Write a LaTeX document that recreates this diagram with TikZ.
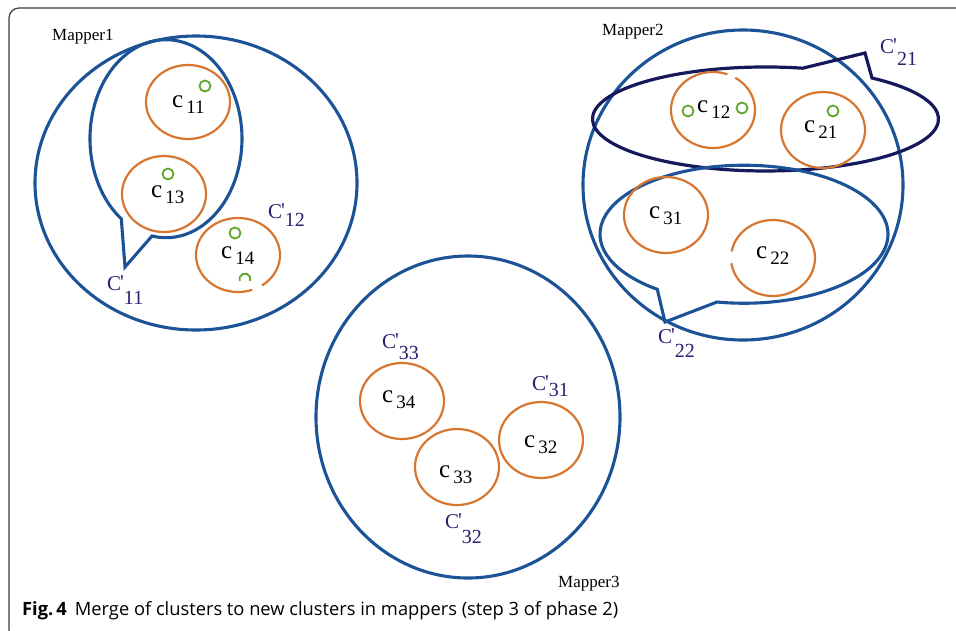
\documentclass[tikz,border=0pt]{standalone}
\usepackage{fontspec}
\setmainfont{Liberation Serif}
\newfontfamily\capfont{Open Sans}
\definecolor{mblue}{RGB}{28,82,150}
\definecolor{mnavy}{RGB}{22,24,92}
\definecolor{corange}{RGB}{214,118,48}
\definecolor{cgreen}{RGB}{96,166,40}
\definecolor{labcol}{RGB}{40,32,112}
\definecolor{framecol}{RGB}{60,60,60}
\newcommand\csub[2]{\fontsize{25}{25}\selectfont #1\hspace{3pt}\raisebox{-6pt}{\fontsize{19}{19}\selectfont #2}}
\newcommand\cprime[2]{\fontsize{21}{21}\selectfont C\kern-1pt\raisebox{1pt}{\textquotesingle}\raisebox{-#2pt}{\fontsize{20}{20}\selectfont #1}}
\begin{document}
\begin{tikzpicture}[x=1pt,y=-1pt,
  big/.style={draw=mblue,line width=3.1},
  navy/.style={draw=mnavy,line width=3.2},
  orangec/.style={draw=corange,line width=2.2},
  greenc/.style={draw=cgreen,line width=1.8},
  clab/.style={anchor=base west,inner sep=0pt,text=black},
  plab/.style={anchor=base west,inner sep=0pt,text=labcol},
  mlab/.style={anchor=base west,inner sep=0pt,text=black,font=\fontsize{17}{17}\selectfont}]
\useasboundingbox (0,0) rectangle (956,630);
\clip (0,0) rectangle (956,630);
% frame
\draw[framecol,line width=1.2,rounded corners=10] (30,640) -- (9,640) -- (9,8) -- (970,8);

% ---------- Mapper1 ----------
\draw[big] (196,183) ellipse[x radius=161,y radius=147];
\draw[big,line join=miter] (152,236) arc[start angle=100.6,end angle=-234,x radius=76,y radius=99] -- (125,267) -- cycle;
\draw[orangec] (188,102) ellipse[x radius=42,y radius=37];
\draw[orangec] (164,194) ellipse[x radius=42,y radius=38];
\draw[orangec] (238,255) ++(70:42 and 37) arc[start angle=70,end angle=415,x radius=42,y radius=37];
\draw[greenc] (205,86) circle[radius=5.5];
\draw[greenc] (168,174) circle[radius=5.5];
\draw[greenc] (235,233) circle[radius=5.5];
\draw[greenc] (245,279) ++(20:5.5) arc[start angle=20,end angle=-200,radius=5.5];
\node[clab] (c11) at (172,107) {\csub{c}{11}};
\node[clab] (c13) at (151,197) {\csub{c}{13}};
\node[clab] (c14) at (221,258) {\csub{c}{14}};
\node[plab] (p11) at (107,290) {\cprime{11}{14}};
\node[plab] (p12) at (268,218) {\cprime{12}{8}};
\node[mlab] (m1) at (52,40) {Mapper1};

% ---------- Mapper2 ----------
\draw[big] (743,185) ellipse[x radius=160,y radius=155];
\draw[navy,line join=miter] (872,78) arc[start angle=-52,end angle=282.4,x radius=173,y radius=52] -- (865,53) -- cycle;
\draw[big,line join=miter] (717,302) arc[start angle=100.8,end angle=-233,x radius=144,y radius=69] -- (665,322) -- cycle;
\draw[orangec] (713,110) ++(-58:42 and 38) arc[start angle=-58,end angle=290,x radius=42,y radius=38];
\draw[orangec] (823,130) ellipse[x radius=42,y radius=38];
\draw[orangec] (666,215) ellipse[x radius=42,y radius=38];
\draw[orangec] (773,258) ++(190:42 and 38) arc[start angle=190,end angle=532,x radius=42,y radius=38];
\draw[greenc] (688,111) circle[radius=5.5];
\draw[greenc] (742,108) circle[radius=5.5];
\draw[greenc] (833,111) circle[radius=5.5];
\node[clab] (c12) at (697,112) {\csub{c}{12}};
\node[clab] (c21) at (804,132) {\csub{c}{21}};
\node[clab] (c31) at (649,218) {\csub{c}{31}};
\node[clab] (c22) at (756,258) {\csub{c}{22}};
\node[plab] (p21) at (880,53) {\cprime{21}{12}};
\node[plab] (p22) at (658,343) {\cprime{22}{14}};
\node[mlab] (m2) at (602,35) {Mapper2};

% ---------- Mapper3 ----------
\draw[big] (468,417) ellipse[x radius=152,y radius=161];
\draw[orangec] (402,401) ellipse[x radius=42,y radius=38];
\draw[orangec] (457,467) ellipse[x radius=42,y radius=38];
\draw[orangec] (541,440) ellipse[x radius=42,y radius=38];
\node[clab] (c34) at (382,402) {\csub{c}{34}};
\node[clab] (c33) at (439,477) {\csub{c}{33}};
\node[clab] (c32) at (524,447) {\csub{c}{32}};
\node[plab] (p33) at (382,348) {\cprime{33}{11}};
\node[plab] (p31) at (532,390) {\cprime{31}{6}};
\node[plab] (p32) at (445,528) {\cprime{32}{15}};
\node[mlab] (m3) at (558,587) {Mapper3};

% ---------- caption ----------
\node[anchor=base west,inner sep=0pt,font=\capfont\fontsize{18.3}{18.3}\selectfont] (cap) at (22,615)
  {\textbf{Fig.\,4}\hspace{8pt}Merge of clusters to new clusters in mappers (step 3 of phase 2)};
\end{tikzpicture}
\end{document}
